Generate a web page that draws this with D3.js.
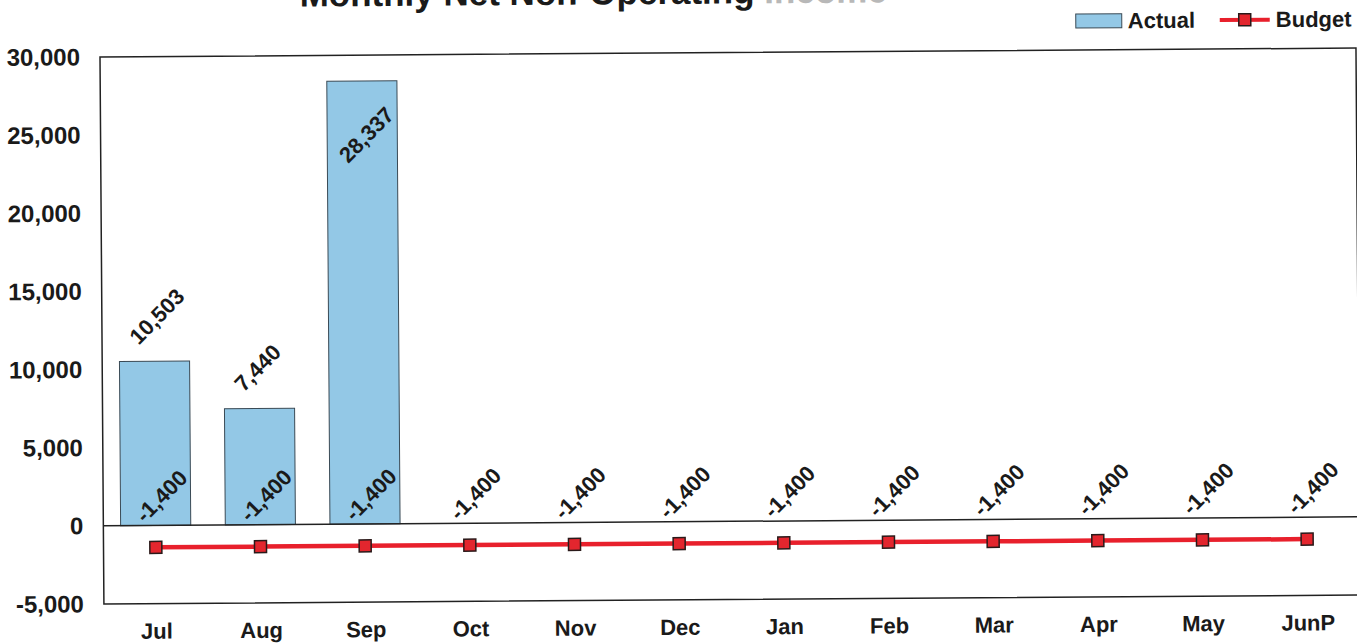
<!DOCTYPE html>
<html>
<head>
<meta charset="utf-8">
<script src="https://cdn.jsdelivr.net/npm/d3@7"></script>
<style>
    body { margin: 0; background: #fff; }
    text { font-family: "Liberation Sans", Arial, sans-serif; font-weight: bold; fill: #1a1a1a; }
</style>
</head>
<body>
<div id="chart"></div>
<script>
var months = ["Jul", "Aug", "Sep", "Oct", "Nov", "Dec", "Jan", "Feb", "Mar", "Apr", "May", "JunP"];
var actual = [10503, 7440, 28337, null, null, null, null, null, null, null, null, null];
var budget = [-1400, -1400, -1400, -1400, -1400, -1400, -1400, -1400, -1400, -1400, -1400, -1400];
var yTicks = [-5000, 0, 5000, 10000, 15000, 20000, 25000, 30000];

var W = 1357, H = 643;
var margin = { top: 57, left: 100 },
    width = 1256,
    height = 547;

// plain hyphen for negatives, like the original
var fmt = d3.formatLocale({ decimal: ".", thousands: ",", grouping: [3], currency: ["$", ""], minus: "-" }).format(",");

var svg = d3.select("#chart")
    .append("svg")
    .attr("width", W)
    .attr("height", H);

// the scanned page sits slightly tilted
var root = svg.append("g")
    .attr("transform", "rotate(-0.41," + margin.left + "," + margin.top + ")");

var x = d3.scaleBand().domain(months).range([0, width]).paddingInner(0.33).paddingOuter(0.165),
    xc = d3.scalePoint().domain(months).range([0, width]).padding(0.5),
    y = d3.scaleLinear().domain([-5000, 30000]).range([height, 0]);

var plot = root.append("g")
    .attr("transform", "translate(" + margin.left + "," + margin.top + ")");

// title (top is cut off in the scan)
root.append("text")
    .attr("x", 300)
    .attr("y", 8)
    .style("font-size", "35px")
    .text("Monthly Net Non-Operating ")
    .append("tspan")
    .style("fill", "#b8b8b8")
    .text("Income");

// bars
plot.selectAll(".bar")
    .data(actual.map(function (d, i) { return [months[i], d]; }).filter(function (d) { return d[1] != null; }))
    .enter().append("rect")
    .attr("class", "bar")
    .attr("x", function (d) { return x(d[0]); })
    .attr("y", function (d) { return y(Math.max(0, d[1])); })
    .attr("width", x.bandwidth())
    .attr("height", function (d) { return Math.abs(y(d[1]) - y(0)); })
    .style("fill", "#93c8e6")
    .style("stroke", "#3a4a55")
    .style("stroke-width", 1);

// zero line
plot.append("line")
    .attr("x1", 0).attr("x2", width)
    .attr("y1", y(0)).attr("y2", y(0))
    .style("stroke", "#222")
    .style("stroke-width", 1.5);

// plot border
plot.append("rect")
    .attr("width", width)
    .attr("height", height)
    .style("fill", "none")
    .style("stroke", "#222")
    .style("stroke-width", 1.5);

// y labels
var yAxis = d3.axisLeft(y).tickValues(yTicks).tickSize(0).tickPadding(20).tickFormat(fmt);
var yg = plot.append("g").call(yAxis);
yg.select(".domain").remove();
yg.attr("font-family", null).attr("font-size", null);
yg.selectAll("text")
    .attr("x", -20)
    .style("font-size", "24px");

// x labels
var xAxis = d3.axisBottom(xc).tickSize(0).tickPadding(0);
var xg = plot.append("g")
    .attr("transform", "translate(0," + height + ")")
    .call(xAxis);
xg.select(".domain").remove();
xg.attr("font-family", null).attr("font-size", null);
xg.selectAll("text")
    .attr("y", 35)
    .attr("dy", 0)
    .style("font-size", "22px");

// budget line
var line = d3.line()
    .x(function (d, i) { return xc(months[i]); })
    .y(function (d) { return y(d); });

plot.append("path")
    .datum(budget)
    .attr("d", line)
    .style("fill", "none")
    .style("stroke", "#e8202c")
    .style("stroke-width", 4.5);

plot.selectAll(".marker")
    .data(budget)
    .enter().append("rect")
    .attr("class", "marker")
    .attr("x", function (d, i) { return xc(months[i]) - 6; })
    .attr("y", function (d) { return y(d) - 6; })
    .attr("width", 12)
    .attr("height", 12)
    .style("fill", "#e3262e")
    .style("stroke", "#2a1a1a")
    .style("stroke-width", 1.5);

// budget labels
plot.selectAll(".blabel")
    .data(budget)
    .enter().append("text")
    .attr("class", "blabel")
    .attr("transform", function (d, i) {
        return "translate(" + (xc(months[i]) + 6) + "," + (y(d) - 51) + ") rotate(-45)";
    })
    .attr("text-anchor", "middle")
    .attr("dominant-baseline", "central")
    .style("font-size", "22px")
    .text(function (d) { return fmt(d); });

// actual labels, outside end unless the bar is too tall
plot.selectAll(".alabel")
    .data(actual.map(function (d, i) { return [months[i], d]; }).filter(function (d) { return d[1] != null; }))
    .enter().append("text")
    .attr("class", "alabel")
    .attr("transform", function (d) {
        var cx = xc(d[0]), top = y(d[1]);
        if (top < 100) return "translate(" + (cx + 28) + "," + (top + 30) + ") rotate(-45)";
        return "translate(" + (cx - 21) + "," + (top - 21) + ") rotate(-45)";
    })
    .attr("text-anchor", function (d) { return y(d[1]) < 100 ? "end" : "start"; })
    .attr("dominant-baseline", "central")
    .style("font-size", "22px")
    .text(function (d) { return fmt(d[1]); });

// legend
var legend = root.append("g").attr("transform", "translate(1076,21)");
legend.append("rect")
    .attr("width", 46).attr("height", 14)
    .style("fill", "#93c8e6")
    .style("stroke", "#3a4a55")
    .style("stroke-width", 1);
legend.append("text")
    .attr("x", 52).attr("y", 7)
    .attr("dominant-baseline", "central")
    .style("font-size", "22px")
    .text("Actual");
legend.append("line")
    .attr("x1", 144).attr("x2", 194)
    .attr("y1", 7).attr("y2", 7)
    .style("stroke", "#e8202c")
    .style("stroke-width", 4);
legend.append("rect")
    .attr("x", 163).attr("y", 1)
    .attr("width", 12).attr("height", 12)
    .style("fill", "#e3262e")
    .style("stroke", "#2a1a1a")
    .style("stroke-width", 1.5);
legend.append("text")
    .attr("x", 200).attr("y", 7)
    .attr("dominant-baseline", "central")
    .style("font-size", "22px")
    .text("Budget");
</script>
</body>
</html>
